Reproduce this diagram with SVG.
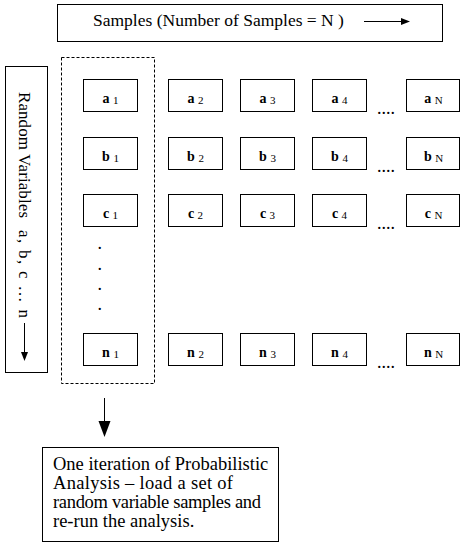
<svg xmlns="http://www.w3.org/2000/svg" width="463" height="544" viewBox="0 0 463 544">
<style>
.box{fill:#fff;stroke:#000;stroke-width:1}
.dash{fill:none;stroke:#000;stroke-width:1;stroke-dasharray:3,2}
.ln{stroke:#000;stroke-width:1;fill:none}
.ah{fill:#000;stroke:none}
.lbl{font-size:14px;text-anchor:middle}
.v{font-weight:bold;font-size:14px}
.s{font-size:11px}
.dots{font-size:18px}
.big{font-size:17.5px}
.note{font-size:18.5px}
</style>
<rect x="0" y="0" width="463" height="544" fill="#fff"/>
<g font-family="Liberation Serif, Times New Roman, serif" fill="#000">
<g id="samples-header">
<rect class="box" x="57.5" y="4.5" width="385" height="37"/>
<text class="big" x="93" y="26">Samples (Number of Samples = N )</text>
</g>
<g id="random-variables">
<rect class="box" x="5.5" y="66.5" width="42" height="306"/>
<text font-size="17" transform="translate(19,92) rotate(90)"><tspan x="0" textLength="126" lengthAdjust="spacing">Random Variables</tspan><tspan x="138" textLength="88" lengthAdjust="spacing">a, b, c … n</tspan></text>
</g>
<g id="iteration-group">
<rect class="dash" x="61.5" y="57.5" width="93" height="326"/>
</g>
<g id="a1"><rect class="box" x="83.5" y="79.5" width="54" height="32"/><text class="lbl" x="110.5" y="103"><tspan class="v">a</tspan> <tspan class="s" dy="1">1</tspan></text></g>
<g id="a2"><rect class="box" x="168.5" y="79.5" width="54" height="32"/><text class="lbl" x="195.5" y="103"><tspan class="v">a</tspan> <tspan class="s" dy="1">2</tspan></text></g>
<g id="a3"><rect class="box" x="240.5" y="79.5" width="54" height="32"/><text class="lbl" x="267.5" y="103"><tspan class="v">a</tspan> <tspan class="s" dy="1">3</tspan></text></g>
<g id="a4"><rect class="box" x="312.5" y="79.5" width="54" height="32"/><text class="lbl" x="339.5" y="103"><tspan class="v">a</tspan> <tspan class="s" dy="1">4</tspan></text></g>
<g id="aN"><rect class="box" x="406.5" y="79.5" width="53" height="32"/><text class="lbl" x="433.5" y="103"><tspan class="v">a</tspan> <tspan class="s" dy="1">N</tspan></text></g>
<g id="b1"><rect class="box" x="83.5" y="137.5" width="54" height="32"/><text class="lbl" x="110.5" y="161"><tspan class="v">b</tspan> <tspan class="s" dy="1">1</tspan></text></g>
<g id="b2"><rect class="box" x="168.5" y="137.5" width="54" height="32"/><text class="lbl" x="195.5" y="161"><tspan class="v">b</tspan> <tspan class="s" dy="1">2</tspan></text></g>
<g id="b3"><rect class="box" x="240.5" y="137.5" width="54" height="32"/><text class="lbl" x="267.5" y="161"><tspan class="v">b</tspan> <tspan class="s" dy="1">3</tspan></text></g>
<g id="b4"><rect class="box" x="312.5" y="137.5" width="54" height="32"/><text class="lbl" x="339.5" y="161"><tspan class="v">b</tspan> <tspan class="s" dy="1">4</tspan></text></g>
<g id="bN"><rect class="box" x="406.5" y="137.5" width="53" height="32"/><text class="lbl" x="433.5" y="161"><tspan class="v">b</tspan> <tspan class="s" dy="1">N</tspan></text></g>
<g id="c1"><rect class="box" x="83.5" y="194.5" width="54" height="32"/><text class="lbl" x="110.5" y="218"><tspan class="v">c</tspan> <tspan class="s" dy="1">1</tspan></text></g>
<g id="c2"><rect class="box" x="168.5" y="194.5" width="54" height="32"/><text class="lbl" x="195.5" y="218"><tspan class="v">c</tspan> <tspan class="s" dy="1">2</tspan></text></g>
<g id="c3"><rect class="box" x="240.5" y="194.5" width="54" height="32"/><text class="lbl" x="267.5" y="218"><tspan class="v">c</tspan> <tspan class="s" dy="1">3</tspan></text></g>
<g id="c4"><rect class="box" x="312.5" y="194.5" width="54" height="32"/><text class="lbl" x="339.5" y="218"><tspan class="v">c</tspan> <tspan class="s" dy="1">4</tspan></text></g>
<g id="cN"><rect class="box" x="406.5" y="194.5" width="53" height="32"/><text class="lbl" x="433.5" y="218"><tspan class="v">c</tspan> <tspan class="s" dy="1">N</tspan></text></g>
<g id="n1"><rect class="box" x="83.5" y="333.5" width="54" height="32"/><text class="lbl" x="110.5" y="357"><tspan class="v">n</tspan> <tspan class="s" dy="1">1</tspan></text></g>
<g id="n2"><rect class="box" x="168.5" y="333.5" width="54" height="32"/><text class="lbl" x="195.5" y="357"><tspan class="v">n</tspan> <tspan class="s" dy="1">2</tspan></text></g>
<g id="n3"><rect class="box" x="240.5" y="333.5" width="54" height="32"/><text class="lbl" x="267.5" y="357"><tspan class="v">n</tspan> <tspan class="s" dy="1">3</tspan></text></g>
<g id="n4"><rect class="box" x="312.5" y="333.5" width="54" height="32"/><text class="lbl" x="339.5" y="357"><tspan class="v">n</tspan> <tspan class="s" dy="1">4</tspan></text></g>
<g id="nN"><rect class="box" x="406.5" y="333.5" width="53" height="32"/><text class="lbl" x="433.5" y="357"><tspan class="v">n</tspan> <tspan class="s" dy="1">N</tspan></text></g>
<g id="ellipses">
<text class="dots" x="377" y="114">....</text>
<text class="dots" x="377" y="172">....</text>
<text class="dots" x="377" y="229">....</text>
<text class="dots" x="377" y="368">....</text>
<text class="dots" x="97.5" y="249">.</text>
<text class="dots" x="97.5" y="270">.</text>
<text class="dots" x="97.5" y="290">.</text>
<text class="dots" x="97.5" y="310">.</text>
</g>
<g id="iteration-note">
<rect class="box" x="42.5" y="447.5" width="236" height="94"/>
<text class="note" x="53" y="470">One iteration of Probabilistic</text>
<text class="note" x="53" y="489" textLength="180" lengthAdjust="spacing">Analysis – load a set of</text>
<text class="note" x="53" y="508" textLength="208" lengthAdjust="spacing">random variable samples and</text>
<text class="note" x="53" y="527">re-run the analysis.</text>
</g>
</g>
<g id="connectors">
<line class="ln" x1="364" y1="21.5" x2="402" y2="21.5"/>
<polygon class="ah" points="401,18 410,21.5 401,25"/>
<line class="ln" x1="24.5" y1="323" x2="24.5" y2="353"/>
<polygon class="ah" points="21,352 28,352 24.5,361"/>
<line class="ln" x1="104.5" y1="398" x2="104.5" y2="422"/>
<polygon class="ah" points="98.5,421 110.5,421 104.5,437"/>
</g>
</svg>
